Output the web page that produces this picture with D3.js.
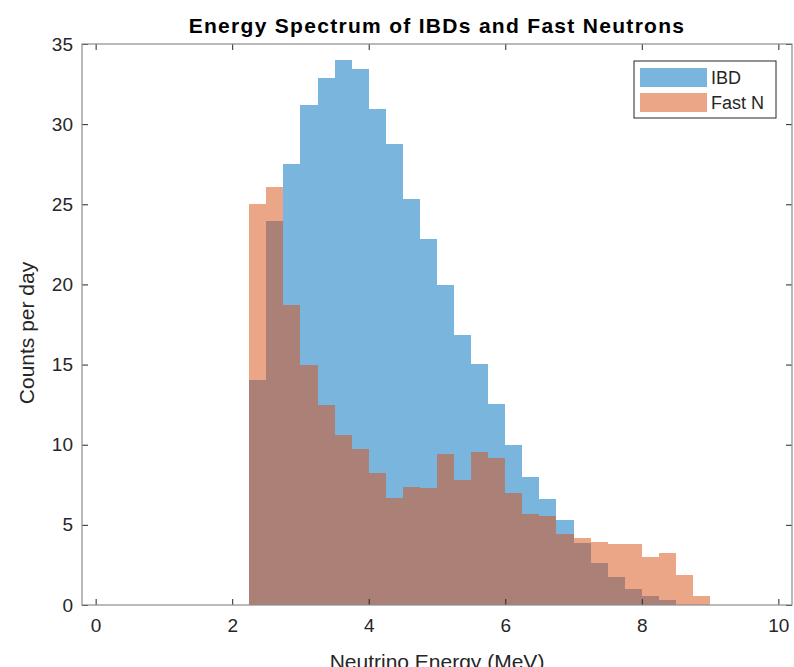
<!DOCTYPE html>
<html>
<head>
<meta charset="utf-8">
<script src="https://cdn.jsdelivr.net/npm/d3@7"></script>
<style>
  body { margin: 0; background: #fff; }
  svg { display: block; font-family: "Liberation Sans", Arial, sans-serif; }
</style>
</head>
<body>
<svg id="chart" width="794" height="667"></svg>
<script>
// bin edges: 2.25 .. 9.0 in steps of 0.25
var binEdges = [2.25, 2.5, 2.75, 3.0, 3.25, 3.5, 3.75, 4.0, 4.25, 4.5, 4.75, 5.0, 5.25, 5.5,
  5.75, 6.0, 6.25, 6.5, 6.75, 7.0, 7.25, 7.5, 7.75, 8.0, 8.25, 8.5, 8.75, 9.0]
var ibdCounts = [14.05, 23.97, 27.53, 31.22, 32.9, 34.0, 33.43, 30.94, 28.78, 25.33, 22.83, 19.94,
  16.84, 15.03, 12.56, 9.96, 7.96, 6.61, 5.28, 3.87, 2.62, 1.72, 1.0, 0.58, 0.29, 0, 0]
var fastNCounts = [25.0, 26.05, 18.73, 15.0, 12.5, 10.62, 9.75, 8.23, 6.67, 7.36, 7.3, 9.44,
  7.82, 9.52, 9.2, 7.0, 5.67, 5.53, 4.45, 4.18, 3.95, 3.78, 3.82, 3.01, 3.22, 1.85, 0.58]
var xTicks = [0, 2, 4, 6, 8, 10]
var yTicks = [0, 5, 10, 15, 20, 25, 30, 35]
var seriesNames = ['IBD', 'Fast N']
var seriesColors = ['#0072bd', '#d95319']

var svg = d3.select('#chart')
var plotLeft = 82, plotRight = 792, plotTop = 44, plotBottom = 605
var faceAlpha = 0.52

var x = d3.scaleLinear().domain([-0.2, 10.2]).range([plotLeft, plotRight])
var y = d3.scaleLinear().domain([0, 35]).range([plotBottom, plotTop])

var series = [ibdCounts, fastNCounts]

// IBD first, fast neutrons drawn over it (overlap turns brown)
series.forEach(function (counts, s) {
    svg.append('g')
        .selectAll('rect')
        .data(counts)
        .enter()
        .append('rect')
        .attr('x', function (d, i) { return x(binEdges[i]) })
        .attr('width', function (d, i) { return x(binEdges[i + 1]) - x(binEdges[i]) })
        .attr('y', function (d) { return y(d) })
        .attr('height', function (d) { return y(0) - y(d) })
        .attr('fill', seriesColors[s])
        .attr('fill-opacity', faceAlpha)
        .attr('shape-rendering', 'crispEdges')
})

var tickLen = 6
var axisColor = '#8c8c8c'
var labelColor = '#262626'

function styleAxis(g) {
    g.select('.domain').remove()
    g.selectAll('.tick line').attr('stroke', '#262626')
    g.selectAll('.tick text').attr('fill', labelColor).style('font-size', '19px')
}

svg.append('g')
    .attr('transform', 'translate(0,' + plotBottom + ')')
    .call(d3.axisBottom(x).tickValues(xTicks).tickSizeInner(-tickLen).tickSizeOuter(0).tickPadding(14))
    .call(styleAxis)

svg.append('g')
    .attr('transform', 'translate(0,' + plotTop + ')')
    .call(d3.axisTop(x).tickValues(xTicks).tickSizeInner(-tickLen).tickSizeOuter(0).tickFormat(''))
    .call(styleAxis)

svg.append('g')
    .attr('transform', 'translate(' + plotLeft + ',0)')
    .call(d3.axisLeft(y).tickValues(yTicks).tickSizeInner(-tickLen).tickSizeOuter(0).tickPadding(9))
    .call(styleAxis)

svg.append('g')
    .attr('transform', 'translate(' + plotRight + ',0)')
    .call(d3.axisRight(y).tickValues(yTicks).tickSizeInner(-tickLen).tickSizeOuter(0).tickFormat(''))
    .call(styleAxis)

// axes box
svg.append('rect')
    .attr('x', plotLeft).attr('y', plotTop)
    .attr('width', plotRight - plotLeft).attr('height', plotBottom - plotTop)
    .attr('fill', 'none')
    .attr('stroke', axisColor)
    .attr('stroke-width', 1.2)

svg.append('text')
    .attr('x', (plotLeft + plotRight) / 2)
    .attr('y', 33)
    .attr('text-anchor', 'middle')
    .attr('fill', '#000')
    .style('font-size', '21px')
    .style('font-weight', 'bold')
    .style('letter-spacing', '1.3px')
    .text('Energy Spectrum of IBDs and Fast Neutrons')

svg.append('text')
    .attr('x', (plotLeft + plotRight) / 2)
    .attr('y', 669)
    .attr('text-anchor', 'middle')
    .attr('fill', labelColor)
    .style('font-size', '21px')
    .text('Neutrino Energy (MeV)')

svg.append('text')
    .attr('transform', 'translate(34,' + 333 + ') rotate(-90)')
    .attr('text-anchor', 'middle')
    .attr('fill', labelColor)
    .style('font-size', '21px')
    .text('Counts per day')

// legend
var legend = svg.append('g').attr('transform', 'translate(634,61)')
legend.append('rect')
    .attr('width', 142).attr('height', 57)
    .attr('fill', '#fff')
    .attr('stroke', '#262626')
    .attr('stroke-width', 1)

seriesNames.forEach(function (name, i) {
    var row = legend.append('g').attr('transform', 'translate(6,' + (7 + i * 25) + ')')
    row.append('rect')
        .attr('width', 67).attr('height', 19)
        .attr('fill', seriesColors[i])
        .attr('fill-opacity', faceAlpha)
    row.append('text')
        .attr('x', 71).attr('y', 16)
        .attr('fill', labelColor)
        .style('font-size', '18px')
        .text(name)
})
</script>
</body>
</html>
